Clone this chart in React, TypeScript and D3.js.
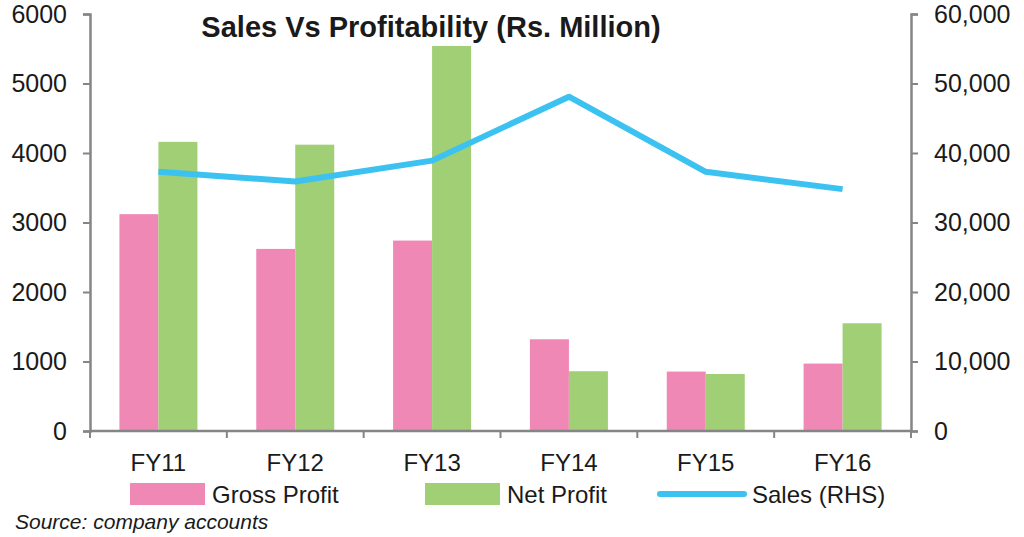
import React, { useEffect, useRef } from 'react';
import * as d3 from 'd3';

// Financial years on the x axis
const years = ['FY11', 'FY12', 'FY13', 'FY14', 'FY15', 'FY16'];
// Profit figures, Rs. million (left axis)
const grossProfit = [3120, 2620, 2740, 1320, 855, 970];
const netProfit = [4160, 4120, 5540, 860, 820, 1550];
// Sales, Rs. million (right axis)
const sales = [37300, 35900, 38900, 48100, 37300, 34800];

const leftTicks = [0, 1000, 2000, 3000, 4000, 5000, 6000];
const rightTicks = [0, 10000, 20000, 30000, 40000, 50000, 60000];

const PINK = '#f088b6';
const GREEN = '#a0cf75';
const BLUE = '#3cc2f0';
const AXIS = '#858585';
const FONT = '"Liberation Sans", Arial, sans-serif';

const App = () => {
  const ref = useRef<SVGSVGElement>(null);

  useEffect(() => {
    const width = 1024;
    const height = 537;
    const left = 90;
    const right = 911;
    const top = 14;
    const bottom = 431;

    const svg = d3.select(ref.current);
    svg.selectAll('*').remove();

    const x = d3.scaleBand<string>()
      .domain(years)
      .range([left, right])
      .paddingInner(0.43)
      .paddingOuter(0.215);

    const x1 = d3.scaleBand<string>()
      .domain(['gross', 'net'])
      .range([0, x.bandwidth()]);

    const yLeft = d3.scaleLinear().domain([0, 6000]).range([bottom, top]);
    const yRight = d3.scaleLinear().domain([0, 60000]).range([bottom, top]);

    svg.append('rect')
      .attr('width', width)
      .attr('height', height)
      .attr('fill', '#fff');

    // Bars
    const groups = svg.append('g')
      .selectAll('g')
      .data(years)
      .enter().append('g')
      .attr('transform', d => `translate(${x(d)},0)`);

    groups.append('rect')
      .attr('x', x1('gross')!)
      .attr('width', x1.bandwidth())
      .attr('y', (d, i) => yLeft(grossProfit[i]))
      .attr('height', (d, i) => bottom - yLeft(grossProfit[i]))
      .attr('fill', PINK);

    groups.append('rect')
      .attr('x', x1('net')!)
      .attr('width', x1.bandwidth())
      .attr('y', (d, i) => yLeft(netProfit[i]))
      .attr('height', (d, i) => bottom - yLeft(netProfit[i]))
      .attr('fill', GREEN);

    // Sales line on the right axis
    const line = d3.line<number>()
      .x((d, i) => x(years[i])! + x.bandwidth() / 2)
      .y(d => yRight(d));

    svg.append('path')
      .datum(sales)
      .attr('fill', 'none')
      .attr('stroke', BLUE)
      .attr('stroke-width', 6)
      .attr('stroke-linejoin', 'round')
      .attr('d', line);

    // Left axis
    const gl = svg.append('g')
      .attr('transform', `translate(${left},0)`)
      .call(d3.axisLeft(yLeft).tickValues(leftTicks).tickSize(7).tickPadding(16)
        .tickSizeOuter(7).tickFormat(d3.format('d')));

    // Right axis
    const gr = svg.append('g')
      .attr('transform', `translate(${right},0)`)
      .call(d3.axisRight(yRight).tickValues(rightTicks).tickSize(7).tickPadding(16)
        .tickSizeOuter(7).tickFormat(d3.format(',')));

    [gl, gr].forEach(g => {
      g.select('.domain').attr('stroke', AXIS).attr('stroke-width', 2.5);
      g.selectAll('.tick line').attr('stroke', AXIS).attr('stroke-width', 2);
      g.selectAll('.tick text')
        .attr('fill', '#1a1a1a')
        .style('font-family', FONT)
        .style('font-size', '25px');
    });

    // Bottom axis: ticks sit on the category boundaries
    const step = x.step();
    const boundaries = d3.range(years.length + 1).map(i => left + i * step);
    const gb = svg.append('g');
    gb.append('line')
      .attr('x1', left).attr('x2', right)
      .attr('y1', bottom).attr('y2', bottom)
      .attr('stroke', AXIS).attr('stroke-width', 2.5);
    gb.selectAll('line.tick')
      .data(boundaries)
      .enter().append('line')
      .attr('class', 'tick')
      .attr('x1', d => d).attr('x2', d => d)
      .attr('y1', bottom).attr('y2', bottom + 7)
      .attr('stroke', AXIS).attr('stroke-width', 2);
    gb.selectAll('text')
      .data(years)
      .enter().append('text')
      .attr('x', d => x(d)! + x.bandwidth() / 2)
      .attr('y', 471)
      .attr('text-anchor', 'middle')
      .attr('fill', '#1a1a1a')
      .style('font-family', FONT)
      .style('font-size', '24px')
      .text(d => d);

    // Title
    svg.append('text')
      .attr('x', 431)
      .attr('y', 37)
      .attr('text-anchor', 'middle')
      .attr('fill', '#1a1a1a')
      .style('font-family', FONT)
      .style('font-size', '29px')
      .style('font-weight', 'bold')
      .text('Sales Vs Profitability (Rs. Million)');

    // Legend
    const legend = svg.append('g');
    const legendItems = [
      { label: 'Gross Profit', color: PINK, kind: 'box', x: 130 },
      { label: 'Net Profit', color: GREEN, kind: 'box', x: 425 },
      { label: 'Sales (RHS)', color: BLUE, kind: 'line', x: 660 },
    ];
    legendItems.forEach(item => {
      if (item.kind === 'box') {
        legend.append('rect')
          .attr('x', item.x).attr('y', 483)
          .attr('width', 75).attr('height', 22)
          .attr('fill', item.color);
      } else {
        legend.append('line')
          .attr('x1', item.x).attr('x2', item.x + 84)
          .attr('y1', 494).attr('y2', 494)
          .attr('stroke', item.color)
          .attr('stroke-width', 6)
          .attr('stroke-linecap', 'round');
      }
      legend.append('text')
        .attr('x', item.kind === 'box' ? item.x + 82 : item.x + 92)
        .attr('y', 503)
        .attr('fill', '#1a1a1a')
        .style('font-family', FONT)
        .style('font-size', '24px')
        .text(item.label);
    });

    // Source note
    svg.append('text')
      .attr('x', 15)
      .attr('y', 529)
      .attr('fill', '#1a1a1a')
      .style('font-family', FONT)
      .style('font-size', '21px')
      .style('font-style', 'italic')
      .text('Source: company accounts');
  }, []);

  return (
    <svg ref={ref} width={1024} height={537}
      style={{ position: 'absolute', left: 0, top: 0, display: 'block' }} />
  );
};

export default App;
